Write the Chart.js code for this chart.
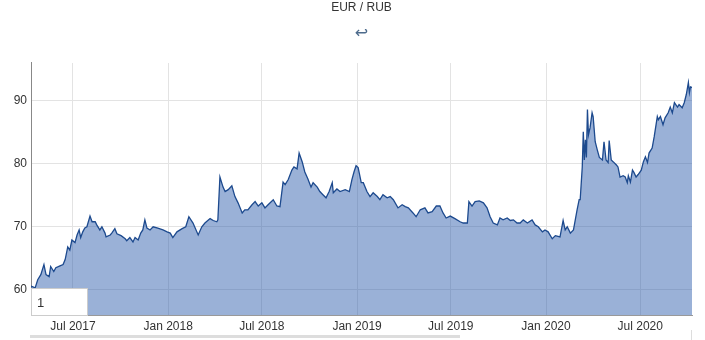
<!DOCTYPE html>
<html>
<head>
<meta charset="utf-8">
<script src="https://cdn.jsdelivr.net/npm/chart.js@4/dist/chart.umd.min.js"></script>
<style>
  body { margin: 0; background: #fff; }
  canvas { display: block; }
</style>
</head>
<body>
<canvas id="grafica" width="705" height="340"></canvas>
<script>
// Serie EUR/RUB
const fechas = [
  '2017-04-11','2017-04-19','2017-04-24','2017-04-30','2017-05-06','2017-05-10','2017-05-16','2017-05-19','2017-05-25','2017-05-29',
  '2017-06-06','2017-06-12','2017-06-16','2017-06-21','2017-06-25','2017-06-29','2017-07-05','2017-07-09','2017-07-13','2017-07-16',
  '2017-07-20','2017-07-24','2017-07-28','2017-08-03','2017-08-07','2017-08-13','2017-08-16','2017-08-22','2017-08-26','2017-09-01',
  '2017-09-03','2017-09-11','2017-09-14','2017-09-20','2017-09-24','2017-10-02','2017-10-10','2017-10-13','2017-10-19','2017-10-25',
  '2017-10-29','2017-11-04','2017-11-09','2017-11-13','2017-11-17','2017-11-21','2017-11-27','2017-12-03','2017-12-12','2017-12-22',
  '2017-12-30','2018-01-05','2018-01-10','2018-01-18','2018-01-28','2018-02-04','2018-02-10','2018-02-18','2018-02-28','2018-03-07',
  '2018-03-13','2018-03-23','2018-03-29','2018-04-05','2018-04-07','2018-04-11','2018-04-17','2018-04-21','2018-04-27','2018-05-04',
  '2018-05-10','2018-05-16','2018-05-24','2018-05-29','2018-06-04','2018-06-12','2018-06-18','2018-06-24','2018-07-01','2018-07-07',
  '2018-07-13','2018-07-23','2018-07-30','2018-08-05','2018-08-11','2018-08-15','2018-08-21','2018-08-28','2018-09-01','2018-09-07',
  '2018-09-11','2018-09-17','2018-09-22','2018-09-28','2018-10-04','2018-10-08','2018-10-16','2018-10-21','2018-10-27','2018-11-02',
  '2018-11-08','2018-11-14','2018-11-16','2018-11-23','2018-11-29','2018-12-09','2018-12-17','2018-12-22','2018-12-26','2018-12-30',
  '2019-01-03','2019-01-09','2019-01-13','2019-01-20','2019-01-26','2019-02-01','2019-02-09','2019-02-14','2019-02-20','2019-02-28',
  '2019-03-06','2019-03-12','2019-03-21','2019-03-29','2019-04-04','2019-04-10','2019-04-19','2019-04-25','2019-05-03','2019-05-12',
  '2019-05-18','2019-05-26','2019-06-03','2019-06-10','2019-06-16','2019-06-22','2019-06-30','2019-07-09','2019-07-19','2019-07-25',
  '2019-08-02','2019-08-05','2019-08-11','2019-08-17','2019-08-25','2019-09-02','2019-09-09','2019-09-15','2019-09-21','2019-09-29',
  '2019-10-04','2019-10-10','2019-10-18','2019-10-24','2019-10-30','2019-11-06','2019-11-12','2019-11-18','2019-11-26','2019-12-05',
  '2019-12-11','2019-12-17','2019-12-25','2019-12-30','2020-01-05','2020-01-13','2020-01-19','2020-01-28','2020-02-03','2020-02-07',
  '2020-02-11','2020-02-17','2020-02-23','2020-03-01','2020-03-05','2020-03-07','2020-03-11','2020-03-13','2020-03-15','2020-03-17',
  '2020-03-19','2020-03-21','2020-03-23','2020-03-26','2020-03-30','2020-04-01','2020-04-05','2020-04-09','2020-04-13','2020-04-19',
  '2020-04-22','2020-04-26','2020-04-30','2020-05-02','2020-05-06','2020-05-10','2020-05-16','2020-05-19','2020-05-23','2020-05-29',
  '2020-06-02','2020-06-06','2020-06-08','2020-06-12','2020-06-16','2020-06-19','2020-06-23','2020-06-27','2020-07-03','2020-07-07',
  '2020-07-11','2020-07-15','2020-07-18','2020-07-24','2020-07-28','2020-08-03','2020-08-05','2020-08-09','2020-08-14','2020-08-18',
  '2020-08-24','2020-08-28','2020-09-01','2020-09-05','2020-09-11','2020-09-14','2020-09-20','2020-09-24','2020-09-28','2020-10-02',
  '2020-10-04','2020-10-06','2020-10-09'
];
const valores = [
  60.6,60.3,61.6,62.4,64.0,62.4,62.1,63.7,62.9,63.5,
  63.8,64.0,64.8,66.8,66.3,67.9,67.5,68.7,69.5,68.3,
  69.2,69.8,70.0,71.7,70.8,70.8,70.3,69.5,70.0,69.0,
  68.4,68.7,69.0,69.7,68.9,68.6,68.1,67.8,68.3,67.6,
  68.3,67.9,69.0,69.5,71.1,69.8,69.5,70.0,69.8,69.5,
  69.2,69.0,68.3,69.2,69.7,70.0,71.6,70.6,68.7,70.0,
  70.6,71.3,71.0,70.8,71.1,77.9,76.3,75.6,75.9,76.5,
  74.8,73.8,72.2,72.7,72.7,73.5,74.0,73.3,73.8,73.0,
  73.5,74.3,73.3,73.2,77.1,76.7,77.5,79.0,79.5,79.2,
  81.7,80.3,78.7,77.6,76.3,77.0,76.3,75.6,75.1,74.6,
  75.6,77.0,75.4,76.0,75.6,75.9,75.6,77.5,78.7,79.7,
  79.4,77.0,77.0,75.6,74.8,75.4,74.8,74.3,75.1,74.6,
  74.8,74.3,73.0,73.5,73.2,73.0,72.2,71.6,72.7,73.0,
  72.2,72.4,73.3,73.3,72.2,71.4,71.7,71.3,70.8,70.6,
  70.6,74.0,73.3,74.0,74.1,73.8,73.0,71.6,70.6,70.3,
  71.4,71.1,71.4,71.0,71.1,70.6,70.6,71.1,70.6,71.1,
  70.3,70.0,69.2,69.5,69.2,68.1,68.6,68.4,71.0,69.5,
  70.0,69.0,69.5,72.7,74.3,74.3,79.5,85.1,80.6,83.8,
  81.0,88.6,84.6,85.7,88.1,87.5,83.5,82.2,81.0,80.6,
  83.5,80.6,80.2,83.7,80.6,80.3,79.8,79.5,77.9,78.1,
  77.9,77.0,78.1,77.1,79.0,78.6,77.9,78.3,79.0,80.3,
  81.1,80.2,81.7,82.5,84.3,87.5,87.0,87.5,86.2,87.3,
  88.1,89.0,88.1,89.7,89.0,89.4,88.9,89.7,91.0,92.9,
  91.3,92.2,92.1
];
const ticksFechas = ['2017-07-01','2018-01-01','2018-07-01','2019-01-01','2019-07-01','2020-01-01','2020-07-01'];
const ticksEtiquetas = ['Jul 2017','Jan 2018','Jul 2018','Jan 2019','Jul 2019','Jan 2020','Jul 2020'];
const ticksY = [60, 70, 80, 90];

const dia = s => Date.parse(s);

// Caja "1" y barra inferior
const extras = {
  id: 'extras',
  afterDraw(chart) {
    const ctx = chart.ctx;
    const a = chart.chartArea;
    ctx.save();
    ctx.fillStyle = '#ffffff';
    ctx.fillRect(a.left + 0.5, a.bottom - 26, 56, 26);
    ctx.strokeStyle = '#cccccc';
    ctx.lineWidth = 1;
    ctx.strokeRect(a.left + 0.5, a.bottom - 26.5, 56, 27);
    ctx.fillStyle = '#333333';
    ctx.font = '13px Arial, "Liberation Sans", sans-serif';
    ctx.textBaseline = 'middle';
    ctx.fillText('1', a.left + 6, a.bottom - 12);
    ctx.fillStyle = '#dddddd';
    ctx.fillRect(30, 335, 430, 3);
    ctx.fillRect(691, 330, 1, 10);
    ctx.restore();
  }
};

function setupChart() {
  const ctx = document.getElementById('grafica').getContext('2d');
  new Chart(ctx, {
    type: 'line',
    data: {
      datasets: [{
        data: fechas.map((f, i) => ({ x: dia(f), y: valores[i] })),
        borderColor: '#1d4a8e',
        borderWidth: 1.3,
        backgroundColor: 'rgba(40, 90, 170, 0.47)',
        fill: 'origin',
        pointRadius: 0,
        tension: 0
      }]
    },
    options: {
      responsive: false,
      animation: false,
      layout: { padding: { left: 0, right: 13, top: 0, bottom: 0 } },
      plugins: {
        legend: { display: false },
        tooltip: { enabled: false },
        title: {
          display: true,
          text: 'EUR / RUB',
          fullSize: false,
          color: '#333333',
          font: { family: 'Arial, "Liberation Sans", sans-serif', size: 12, weight: 'normal' },
          padding: { top: 0, bottom: 10 }
        },
        subtitle: {
          display: true,
          text: '↩',
          fullSize: false,
          color: '#4d6b8c',
          font: { family: '"DejaVu Sans", sans-serif', size: 16 },
          padding: { top: 0, bottom: 19.4 }
        }
      },
      scales: {
        x: {
          type: 'linear',
          min: dia('2017-04-11'),
          max: dia('2020-10-09'),
          afterFit: s => { s.height = 25; },
          afterBuildTicks: s => { s.ticks = ticksFechas.map(f => ({ value: dia(f) })); },
          grid: { color: '#e3e3e3', drawTicks: false },
          border: { display: true, color: '#999999' },
          ticks: {
            autoSkip: false,
            maxRotation: 0,
            padding: 4,
            color: '#333333',
            font: { family: 'Arial, "Liberation Sans", sans-serif', size: 12 },
            callback: (v, i) => ticksEtiquetas[i]
          }
        },
        y: {
          min: 56,
          max: 96,
          afterFit: s => { s.width = 31; },
          afterBuildTicks: s => { s.ticks = ticksY.map(v => ({ value: v })); },
          grid: { color: '#e3e3e3', drawTicks: false },
          border: { display: true, color: '#888888' },
          ticks: {
            padding: 4,
            color: '#333333',
            font: { family: 'Arial, "Liberation Sans", sans-serif', size: 12 }
          }
        }
      }
    },
    plugins: [extras]
  });
}

document.addEventListener('DOMContentLoaded', setupChart);
</script>
</body>
</html>
